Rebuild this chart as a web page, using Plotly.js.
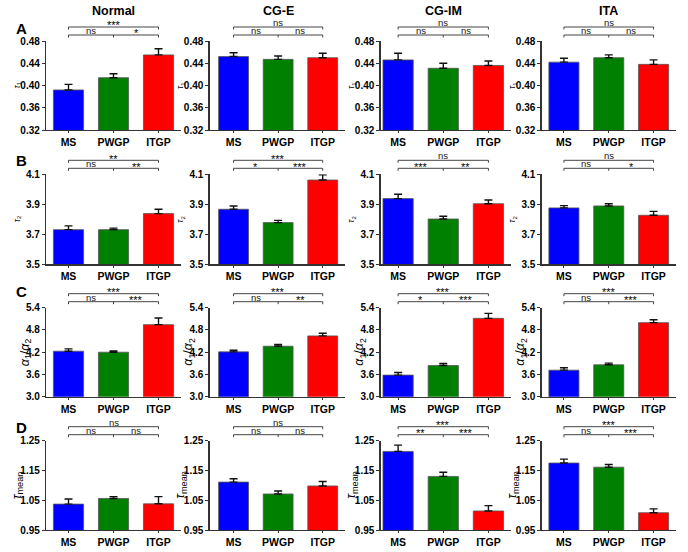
<!DOCTYPE html>
<html>
<head>
<meta charset="utf-8">
<script src="https://cdn.plot.ly/plotly-3.0.1.min.js"></script>
<style>html,body{margin:0;padding:0;background:#fff;}#chart{width:688px;height:552px;}</style>
</head>
<body>
<div id="chart"></div>
<script>
// ---- data ----
const groups = ['MS', 'PWGP', 'ITGP'];
const conditions = ['Normal', 'CG-E', 'CG-IM', 'ITA'];
const panelLetters = ['A', 'B', 'C', 'D'];
const metricTitles = ['<i>τ</i><sub>1</sub>', '<i>τ</i><sub>2</sub>', '<i>α</i><sub>1</sub>/<i>α</i><sub>2</sub>', '<i>τ</i><sub>mean</sub>'];

// rows: A (tau1), B (tau2), C (alpha1/alpha2), D (tau mean); each row: Normal, CG-E, CG-IM, ITA
const tau1Mean = [[0.392, 0.414, 0.455], [0.452, 0.447, 0.450], [0.446, 0.431, 0.436], [0.442, 0.450, 0.438]];
const tau1Err  = [[0.010, 0.007, 0.011], [0.007, 0.006, 0.008], [0.012, 0.009, 0.008], [0.007, 0.005, 0.008]];
const tau2Mean = [[3.731, 3.731, 3.838], [3.867, 3.778, 4.062], [3.938, 3.802, 3.904], [3.876, 3.889, 3.827]];
const tau2Err  = [[0.025, 0.010, 0.029], [0.022, 0.015, 0.034], [0.029, 0.018, 0.025], [0.015, 0.015, 0.026]];
const ratioMean = [[4.227, 4.200, 4.943], [4.209, 4.361, 4.639], [3.582, 3.842, 5.113], [3.716, 3.860, 4.997]];
const ratioErr  = [[0.063, 0.036, 0.180], [0.045, 0.045, 0.072], [0.070, 0.055, 0.135], [0.063, 0.045, 0.080]];
const tauMeanMean = [[1.037, 1.056, 1.038], [1.111, 1.071, 1.098], [1.214, 1.130, 1.014], [1.175, 1.161, 1.008]];
const tauMeanErr  = [[0.017, 0.006, 0.024], [0.011, 0.010, 0.015], [0.021, 0.014, 0.018], [0.013, 0.009, 0.013]];

// significance: [MS vs ITGP, MS vs PWGP, PWGP vs ITGP]
const sigTau1 = [['***', 'ns', '*'], ['ns', 'ns', 'ns'], ['ns', 'ns', 'ns'], ['ns', 'ns', 'ns']];
const sigTau2 = [['**', 'ns', '**'], ['***', '*', '***'], ['ns', '***', '**'], ['ns', 'ns', '*']];
const sigRatio = [['***', 'ns', '***'], ['***', 'ns', '**'], ['***', '*', '***'], ['***', 'ns', '***']];
const sigTauMean = [['ns', 'ns', 'ns'], ['ns', 'ns', 'ns'], ['***', '**', '***'], ['***', 'ns', '***']];

const yRanges = [[0.32, 0.48], [3.5, 4.1], [3.0, 5.4], [0.95, 1.25]];
const yTicks = [[0.32, 0.36, 0.40, 0.44, 0.48], [3.5, 3.7, 3.9, 4.1], [3.0, 3.6, 4.2, 4.8, 5.4], [0.95, 1.05, 1.15, 1.25]];
const yFormats = ['.2f', '.1f', '.1f', '.2f'];

const means = [tau1Mean, tau2Mean, ratioMean, tauMeanMean];
const errs = [tau1Err, tau2Err, ratioErr, tauMeanErr];
const sigs = [sigTau1, sigTau2, sigRatio, sigTauMean];

// ---- layout geometry (pixels) ----
const W = 688, H = 552;
const cols = [
  {l: 46, r: 181, range: [-0.5, 2.5]},
  {l: 209.5, r: 345, range: [-0.54, 2.5]},
  {l: 380.5, r: 511, range: [-0.39, 2.5]},
  {l: 541.5, r: 676, range: [-0.5, 2.5]}
];
const rows = [
  {t: 41, b: 130},
  {t: 174.3, b: 264.3},
  {t: 307.7, b: 396.7},
  {t: 440.7, b: 530}
];
const px2x = p => p / W;
const px2y = p => 1 - p / H;

const barColors = ['#0000ff', '#008000', '#ff0000'];
const FONT = 'Liberation Sans, Arial, sans-serif';

const data = [];
const layout = {
  width: W, height: H,
  margin: {l: 0, r: 0, t: 0, b: 0},
  paper_bgcolor: '#fff', plot_bgcolor: '#fff',
  showlegend: false,
  font: {family: FONT, color: '#000'},
  shapes: [], annotations: []
};

for (let r = 0; r < 4; r++) {
  for (let c = 0; c < 4; c++) {
    const idx = r * 4 + c + 1;
    const xs = idx === 1 ? '' : String(idx);
    const xref = 'x' + xs, yref = 'y' + xs;
    data.push({
      type: 'bar',
      x: [0, 1, 2],
      y: means[r][c],
      xaxis: xref, yaxis: yref,
      width: 0.67,
      marker: {color: barColors, line: {color: '#555', width: 0.8}},
      error_y: {type: 'data', symmetric: false, array: errs[r][c], arrayminus: [0, 0, 0],
                color: '#111', thickness: 1.4, width: 4},
      hoverinfo: 'skip'
    });
    layout['xaxis' + xs] = {
      domain: [px2x(cols[c].l), px2x(cols[c].r)],
      range: cols[c].range,
      anchor: yref,
      tickvals: [0, 1, 2], ticktext: groups,
      showline: true, linecolor: '#333', linewidth: 1.2,
      ticks: 'outside', ticklen: 2, tickwidth: 1, tickcolor: '#333',
      tickfont: {family: FONT, size: 10.5, weight: 'bold', color: '#000'},
      showgrid: false, zeroline: false, fixedrange: true
    };
    layout['yaxis' + xs] = {
      domain: [px2y(rows[r].b), px2y(rows[r].t)],
      range: yRanges[r],
      anchor: xref,
      tickvals: yTicks[r], tickformat: yFormats[r],
      showline: true, linecolor: '#333', linewidth: 1.2,
      ticks: 'outside', ticklen: 3, tickwidth: 1, tickcolor: '#333',
      tickfont: {family: FONT, size: 10, weight: 'bold', color: '#000'},
      showgrid: false, zeroline: false, fixedrange: true
    };

    // significance brackets
    const topY = rows[r].t - 14, lowY = rows[r].t - 6, tk = 2.5;
    const ln = {color: '#444', width: 1};
    const seg = (x0, y0, x1, y1) => layout.shapes.push({type: 'line', xref: xref, yref: 'paper',
      x0: x0, x1: x1, y0: px2y(y0), y1: px2y(y1), line: ln});
    seg(0, topY, 2, topY); seg(0, topY, 0, topY + tk); seg(2, topY, 2, topY + tk);
    seg(0, lowY, 2, lowY); seg(0, lowY, 0, lowY + tk); seg(2, lowY, 2, lowY + tk); seg(1, lowY, 1, lowY + tk);
    const labs = sigs[r][c];
    const lab = (x, y, t) => {
      const star = t.indexOf('*') >= 0;
      layout.annotations.push({xref: xref, yref: 'paper', x: x, y: px2y(y), text: t,
        showarrow: false, yanchor: 'bottom', xanchor: 'center', yshift: star ? -5.5 : -2,
        borderpad: 0,
        font: {family: FONT, size: star ? 11 : 9.5, color: star ? '#000' : '#222'}});
    };
    lab(1, topY, labs[0]);
    lab(0.5, lowY, labs[1]);
    lab(1.5, lowY, labs[2]);

    // y-axis title
    const ttlOff = r === 2 ? 20 : 29;
    const ttlSize = r === 2 ? 12.5 : (r === 3 ? 13 : 8.5);
    layout.annotations.push({xref: 'paper', yref: 'paper',
      x: px2x(cols[c].l - ttlOff), y: px2y((rows[r].t + rows[r].b) / 2),
      text: metricTitles[r], textangle: -90, showarrow: false,
      xanchor: 'center', yanchor: 'middle',
      font: {family: FONT, size: ttlSize, color: '#000'}});

    // column titles
    if (r === 0) {
      layout.annotations.push({xref: xref, yref: 'paper', x: 1, y: px2y(11),
        text: '<b>' + conditions[c] + '</b>', showarrow: false, xanchor: 'center', yanchor: 'middle',
        borderpad: 0,
        font: {family: FONT, size: 12.5, color: '#000'}});
    }
  }
  // panel letters
  const letterY = [28, 160.5, 291.5, 427.5][r];
  layout.annotations.push({xref: 'paper', yref: 'paper', x: px2x(21.5), y: px2y(letterY),
    text: '<b>' + panelLetters[r] + '</b>', showarrow: false, xanchor: 'center', yanchor: 'middle',
    font: {family: FONT, size: 15, color: '#000'}});
}

Plotly.newPlot('chart', data, layout, {displayModeBar: false, staticPlot: true});
</script>
</body>
</html>
